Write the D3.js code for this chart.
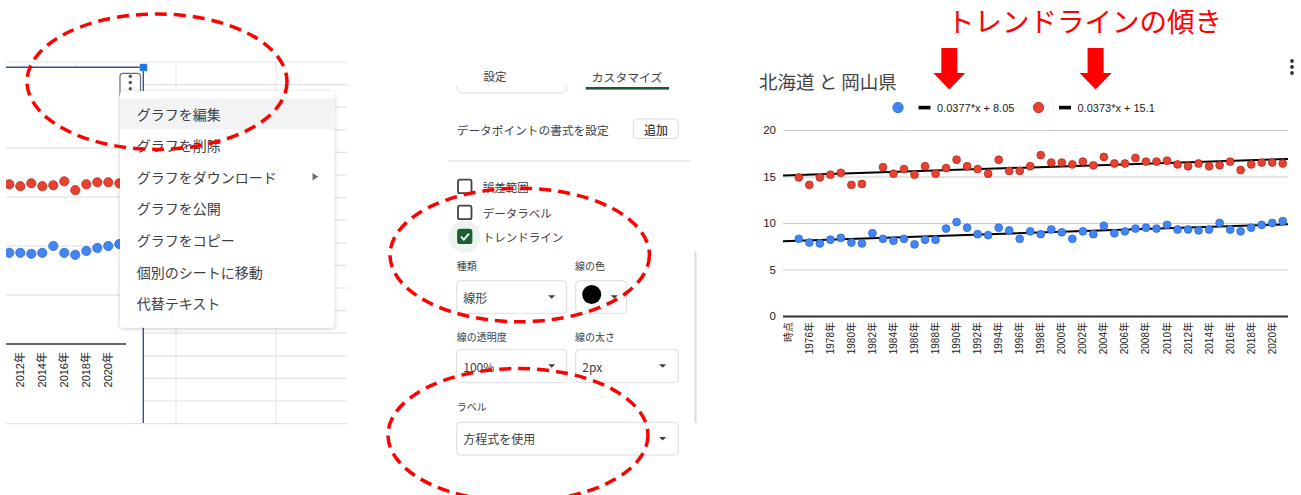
<!DOCTYPE html>
<html>
<head>
<meta charset="utf-8">
<script src="https://cdn.jsdelivr.net/npm/d3@7"></script>
<style>
  body { margin: 0; background: #fff; }
  svg { display: block; }
  text { font-family: "Liberation Sans", Arial, "Noto Sans CJK JP", sans-serif; }
  .jp { font-family: "Noto Sans CJK JP", "Liberation Sans", sans-serif; }
</style>
</head>
<body>
<svg id="chart" width="1301" height="495"></svg>
<script>
// categories: first row is the header "時点", then one per year
const years = d3.range(1975, 2022);
const categories = ["時点"].concat(years.map(y => y + "年"));

// 北海道 (blue), 1975..2021
const hokkaido = [8.3, 7.9, 7.8, 8.2, 8.4, 7.9, 7.8, 8.9, 8.3, 8.1,
                  8.3, 7.7, 8.2, 8.2, 9.4, 10.1, 9.5, 8.8, 8.7, 9.5,
                  9.2, 8.3, 9.1, 8.8, 9.3, 9.0, 8.3, 9.1, 8.8, 9.7,
                  8.9, 9.1, 9.4, 9.5, 9.4, 9.8, 9.3, 9.3, 9.2, 9.3,
                  10.0, 9.3, 9.1, 9.5, 9.8, 10.0, 10.2];
// 岡山県 (red), 1975..2021 (1982 has no point)
const okayama = [14.9, 14.1, 14.9, 15.2, 15.4, 14.1, 14.2, null, 16.0, 15.3,
                 15.8, 15.2, 16.1, 15.3, 15.9, 16.8, 16.1, 15.8, 15.3, 16.8,
                 15.6, 15.6, 16.1, 17.3, 16.5, 16.5, 16.3, 16.6, 16.2, 17.1,
                 16.4, 16.4, 17.0, 16.6, 16.6, 16.7, 16.3, 16.1, 16.4, 16.1,
                 16.2, 16.6, 15.7, 16.3, 16.5, 16.5, 16.4];

const trendSlope = [0.0377, 0.0373];
const trendIntercept = [8.05, 15.1];
const yTicks = [0, 5, 10, 15, 20];

const menuItems = ["グラフを編集", "グラフを削除", "グラフをダウンロード", "グラフを公開",
                   "グラフをコピー", "個別のシートに移動", "代替テキスト"];

const fills = ["#4285f4", "#e8412f"];
const strokes = ["#2b68d6", "#b52a1c"];
const series = [hokkaido, okayama];

const svg = d3.select("#chart");

// ---------------- left panel: spreadsheet + cropped chart + menu ----------------
const left = svg.append("g");
const rowY = d3.range(17).map(k => 62 + k * 22.6);
rowY.forEach((ry, k) => {
  const full = k === 0 || k === 16;
  left.append("line").attr("x1", full ? 6 : 143).attr("x2", 347)
    .attr("y1", ry).attr("y2", ry).attr("stroke", "#e2e3e3").attr("stroke-width", 1.2);
});
[176, 276].forEach(cx => left.append("line").attr("x1", cx).attr("x2", cx)
  .attr("y1", 62).attr("y2", 424).attr("stroke", "#e2e3e3"));
left.append("line").attr("x1", 76.7).attr("x2", 76.7).attr("y1", 62).attr("y2", 67).attr("stroke", "#e2e3e3");

left.append("rect").attr("x", 6).attr("y", 67).attr("width", 137).attr("height", 356).attr("fill", "#fff");
svg.append("clipPath").attr("id", "leftClip")
  .append("rect").attr("x", 6).attr("y", 67).attr("width", 120).attr("height", 356);

const xl = d3.scalePoint().domain(categories).range([9.3 - 37 * 11, 9.3 + 10 * 11]);
const yl = d3.scaleLinear().domain([0, 20]).range([344, 148]);
const lc = left.append("g").attr("clip-path", "url(#leftClip)");
yTicks.filter(d => d > 0).forEach(t => lc.append("line").attr("x1", 6).attr("x2", 122)
  .attr("y1", yl(t)).attr("y2", yl(t)).attr("stroke", "#dcdcdc"));
lc.append("line").attr("x1", 6).attr("x2", 126).attr("y1", yl(0)).attr("y2", yl(0))
  .attr("stroke", "#333").attr("stroke-width", 1.5);
series.forEach((s, si) => {
  lc.selectAll(null).data(s.map((v, i) => ({ c: categories[i + 1], v })).filter(d => d.v !== null))
    .join("circle")
    .attr("cx", d => xl(d.c)).attr("cy", d => yl(d.v)).attr("r", 4.6)
    .attr("fill", fills[si]).attr("stroke", strokes[si]).attr("stroke-width", 0.8);
});
lc.selectAll(null).data(categories.filter((d, i) => i % 2 === 0 && i >= 38))
  .join("text")
  .attr("transform", d => `translate(${xl(d)},352) rotate(-90)`)
  .attr("text-anchor", "end").attr("dy", "0.35em")
  .attr("font-size", 11).attr("fill", "#222").text(d => d);

// selection border + handle
left.append("line").attr("x1", 6).attr("x2", 143.3).attr("y1", 67.3).attr("y2", 67.3)
  .attr("stroke", "#3b4fa0").attr("stroke-width", 1.4);
left.append("line").attr("x1", 143.3).attr("x2", 143.3).attr("y1", 67.3).attr("y2", 423)
  .attr("stroke", "#3b4fa0").attr("stroke-width", 1.4);
left.append("rect").attr("x", 140).attr("y", 64).attr("width", 7).attr("height", 7)
  .attr("fill", "#1a73e8").attr("stroke", "#5c8ee8").attr("stroke-width", 0.5);

// kebab button
left.append("rect").attr("x", 120).attr("y", 73.3).attr("width", 20.5).attr("height", 24).attr("rx", 3)
  .attr("fill", "#fff").attr("stroke", "#6b6b6b").attr("stroke-width", 1.2);
[76.3, 82.5, 88.8].forEach(cy => left.append("circle").attr("cx", 130.3).attr("cy", cy).attr("r", 1.7).attr("fill", "#555"));

// context menu
const defs = svg.append("defs");
const sh = defs.append("filter").attr("id", "shadow").attr("x", "-10%").attr("y", "-10%").attr("width", "120%").attr("height", "120%");
sh.append("feDropShadow").attr("dx", 0).attr("dy", 1).attr("stdDeviation", 2).attr("flood-color", "#000").attr("flood-opacity", 0.22);
left.append("rect").attr("x", 120).attr("y", 91).attr("width", 214.5).attr("height", 236.7).attr("rx", 4)
  .attr("fill", "#fff").attr("filter", "url(#shadow)");
left.append("rect").attr("x", 120).attr("y", 98.3).attr("width", 214.5).attr("height", 31).attr("fill", "#f1f3f4");
left.selectAll(null).data(menuItems).join("text")
  .attr("class", "jp")
  .attr("x", 136.7).attr("y", (d, i) => 113.5 + 31.6 * i)
  .attr("dominant-baseline", "central")
  .attr("font-size", 14).attr("fill", "#3c4043").text(d => d);
left.append("path").attr("d", "M312.5,173 L318.5,176.7 L312.5,180.4 Z").attr("fill", "#6f7377");

// ---------------- middle panel: chart editor ----------------
const mid = svg.append("g");
const midText = (x, y, s, size, fill, weight) => mid.append("text").attr("class", "jp")
  .attr("x", x).attr("y", y).attr("dominant-baseline", "central")
  .attr("font-size", size).attr("fill", fill).attr("font-weight", weight || 400).text(s);

mid.append("path").attr("d", "M456.7,86 Q456.7,93 463,93 L560.5,93 Q566.7,93 566.7,86")
  .attr("fill", "none").attr("stroke", "#dadce0");
midText(495, 76, "設定", 11.5, "#3c4043").attr("text-anchor", "middle");
midText(627, 76, "カスタマイズ", 11.8, "#3c4043").attr("text-anchor", "middle");
mid.append("rect").attr("x", 585.7).attr("y", 87).attr("width", 83.3).attr("height", 2.6).attr("fill", "#1e5631");

midText(456.7, 129, "データポイントの書式を設定", 11.7, "#3c4043");
mid.append("rect").attr("x", 633.3).attr("y", 119).attr("width", 45).attr("height", 19.5).attr("rx", 4)
  .attr("fill", "#fff").attr("stroke", "#dadce0");
midText(656, 129, "追加", 12, "#3c4043", 500).attr("text-anchor", "middle");
mid.append("line").attr("x1", 449).attr("x2", 691).attr("y1", 161).attr("y2", 161).attr("stroke", "#dadce0");

// checkboxes
mid.append("circle").attr("cx", 464.5).attr("cy", 236.7).attr("r", 16).attr("fill", "#edf4ef");
[["誤差範囲", 186.7, false], ["データラベル", 212.7, false], ["トレンドライン", 236.7, true]].forEach(([s, cy, on]) => {
  mid.append("rect").attr("x", 458).attr("y", cy - 7).attr("width", 13.5).attr("height", 13.5).attr("rx", 2)
    .attr("fill", on ? "#1e5e34" : "#fff").attr("stroke", on ? "#1e5e34" : "#444").attr("stroke-width", 1.8);
  if (on) mid.append("path").attr("d", `M461,${cy} L463.8,${cy + 3} L469,${cy - 3}`)
    .attr("fill", "none").attr("stroke", "#fff").attr("stroke-width", 1.8);
  midText(482.7, cy, s, 11.5, "#3c4043");
});

midText(456.7, 265, "種類", 10, "#3c4043");
midText(575, 265, "線の色", 10, "#3c4043");
midText(456.7, 336, "線の透明度", 10, "#3c4043");
midText(575, 336, "線の太さ", 10, "#3c4043");
midText(456.7, 406.7, "ラベル", 10, "#3c4043");

const dropdown = (x, y, w, h, label, arrowX) => {
  mid.append("rect").attr("x", x).attr("y", y).attr("width", w).attr("height", h).attr("rx", 4)
    .attr("fill", "#fff").attr("stroke", "#dadce0");
  if (label) midText(x + 6.6, y + h / 2, label, 12, "#3c4043");
  const cy = y + h / 2;
  mid.append("path").attr("d", `M${arrowX - 3.5},${cy - 1.7} L${arrowX + 3.5},${cy - 1.7} L${arrowX},${cy + 1.8} Z`)
    .attr("fill", "#3c4043");
};
dropdown(456.7, 280.7, 110, 32.6, "線形", 551.7);
dropdown(575.7, 280.7, 51, 32.6, null, 614.3);
mid.append("circle").attr("cx", 591.7).attr("cy", 294.5).attr("r", 9.5).attr("fill", "#000");
dropdown(456.7, 349.3, 110, 33.4, "100%", 551.7);
dropdown(575.7, 349.3, 102.6, 33.4, "2px", 662.7);
dropdown(456.7, 422.3, 221.6, 32.7, "方程式を使用", 662.7);
mid.append("line").attr("x1", 695.5).attr("x2", 695.5).attr("y1", 252).attr("y2", 422)
  .attr("stroke", "#dadce0").attr("stroke-width", 2).attr("stroke-linecap", "round");

// ---------------- right panel: the scatter chart ----------------
const x = d3.scaleBand().domain(categories).range([783, 1288]);
const y = d3.scaleLinear().domain([0, 20]).range([316, 130]);
const xt = d3.scaleLinear().domain([0, categories.length]).range([783, 1288]);
const cx = c => x(c) + x.bandwidth() / 2;

const right = svg.append("g");
const yAxis = right.append("g").attr("transform", "translate(783,0)")
  .call(d3.axisLeft(y).tickValues(yTicks).tickSize(-(1288 - 783)).tickPadding(7));
yAxis.select(".domain").remove();
yAxis.selectAll("line").attr("stroke", d => d === 0 ? "#333" : "#cccccc").attr("stroke-width", d => d === 0 ? 2 : 1.2);
yAxis.selectAll("text").attr("font-size", 11.5).attr("fill", "#222")
  .attr("font-family", "Liberation Sans, Arial, sans-serif");

const xAxis = right.append("g").attr("transform", "translate(0,316)")
  .call(d3.axisBottom(x).tickValues(categories.filter((d, i) => i % 2 === 0)).tickSize(0));
xAxis.select(".domain").remove();
xAxis.selectAll("text")
  .attr("transform", "rotate(-90)").attr("text-anchor", "end")
  .attr("x", -6).attr("y", 0).attr("dy", "0.35em")
  .attr("font-size", 10).attr("fill", "#222")
  .attr("font-family", "Liberation Sans, Noto Sans CJK JP, sans-serif");

// trend lines
trendSlope.forEach((m, si) => {
  right.append("line")
    .attr("x1", xt(0)).attr("y1", y(trendIntercept[si]))
    .attr("x2", xt(categories.length)).attr("y2", y(trendIntercept[si] + m * categories.length))
    .attr("stroke", "#000").attr("stroke-width", 2);
});

series.forEach((s, si) => {
  right.selectAll(null).data(s.map((v, i) => ({ c: categories[i + 1], v })).filter(d => d.v !== null))
    .join("circle")
    .attr("cx", d => cx(d.c)).attr("cy", d => y(d.v)).attr("r", 3.9)
    .attr("fill", fills[si]).attr("stroke", strokes[si]).attr("stroke-width", 0.8);
});

// title + legend
right.append("text").attr("class", "jp").attr("x", 759).attr("y", 81)
  .attr("dominant-baseline", "central").attr("font-size", 18.5).attr("fill", "#444")
  .text("北海道 と 岡山県");
const legendX = [898, 1038.5];
trendSlope.forEach((m, si) => {
  const lx = legendX[si];
  right.append("circle").attr("cx", lx).attr("cy", 107.5).attr("r", 5.2)
    .attr("fill", fills[si]).attr("stroke", strokes[si]).attr("stroke-width", 0.8);
  right.append("rect").attr("x", lx + 20.5).attr("y", 105.8).attr("width", 12).attr("height", 3.6).attr("fill", "#000");
  right.append("text").attr("x", lx + 39).attr("y", 107.5).attr("dominant-baseline", "central")
    .attr("font-size", 11).attr("fill", "#222")
    .text(`${m}*x + ${trendIntercept[si]}`);
});
[61, 67, 73].forEach(cy => right.append("circle").attr("cx", 1292).attr("cy", cy).attr("r", 1.9).attr("fill", "#333"));

// annotation
svg.append("text").attr("class", "jp").attr("x", 947).attr("y", 20)
  .attr("dominant-baseline", "central").attr("font-size", 27.5).attr("fill", "#ff0000")
  .text("トレンドラインの傾き");
[949.3, 1095.6].forEach(ax => {
  svg.append("path")
    .attr("d", `M${ax - 8},48 L${ax + 8},48 L${ax + 8},73 L${ax + 16},73 L${ax},89.5 L${ax - 16},73 L${ax - 8},73 Z`)
    .attr("fill", "#ff0000");
});

// dashed highlight ellipses
[[157, 81.7, 130, 67.7], [519.7, 255, 129.7, 66.7], [518, 435, 130, 66.5]].forEach(([ex, ey, rx, ry]) => {
  svg.append("ellipse").attr("cx", ex).attr("cy", ey).attr("rx", rx).attr("ry", ry)
    .attr("fill", "none").attr("stroke", "#ff0000").attr("stroke-width", 3.5)
    .attr("stroke-dasharray", "12 7");
});
</script>
</body>
</html>
